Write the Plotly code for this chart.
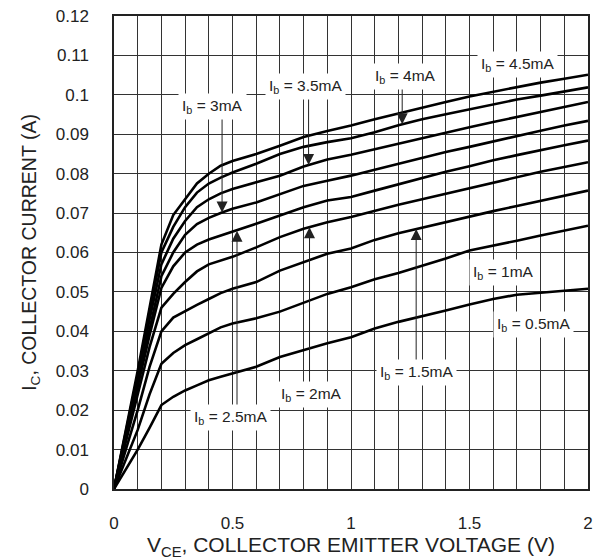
import numpy as np
import plotly.graph_objects as go

vce = [0, 0.05, 0.1, 0.15, 0.2, 0.25, 0.3, 0.35, 0.4, 0.45, 0.5, 0.6, 0.7, 0.8, 0.9,
       1.0, 1.1, 1.2, 1.3, 1.4, 1.5, 1.6, 1.7, 1.8, 1.9, 2.0]

ic_4_5mA = [0, 0.015, 0.030, 0.046, 0.062, 0.0695, 0.0735, 0.0775, 0.0800, 0.0820, 0.0832, 0.0850, 0.0871, 0.0893, 0.0908,
            0.0922, 0.0938, 0.0953, 0.0968, 0.0982, 0.0996, 0.1008, 0.1020, 0.1031, 0.1041, 0.1051]
ic_4mA = [0, 0.0145, 0.029, 0.045, 0.060, 0.0665, 0.0715, 0.0752, 0.0775, 0.0790, 0.0803, 0.0825, 0.0850, 0.0868, 0.0880,
          0.0890, 0.0905, 0.0923, 0.0938, 0.0951, 0.0963, 0.0975, 0.0988, 0.0998, 0.1008, 0.1019]
ic_3_5mA = [0, 0.014, 0.028, 0.043, 0.057, 0.0635, 0.0680, 0.0715, 0.0735, 0.0750, 0.0761, 0.0778, 0.0795, 0.0818, 0.0836,
            0.0848, 0.0862, 0.0877, 0.0891, 0.0905, 0.0918, 0.0931, 0.0944, 0.0957, 0.0970, 0.0982]
ic_3mA = [0, 0.0135, 0.027, 0.041, 0.054, 0.0600, 0.0645, 0.0672, 0.0688, 0.0700, 0.0711, 0.0727, 0.0749, 0.0769, 0.0782,
          0.0795, 0.0810, 0.0825, 0.0840, 0.0855, 0.0868, 0.0882, 0.0896, 0.0909, 0.0922, 0.0934]
ic_2_5mA = [0, 0.013, 0.026, 0.039, 0.051, 0.0565, 0.0600, 0.0620, 0.0633, 0.0643, 0.0651, 0.0673, 0.0694, 0.0715, 0.0732,
            0.0741, 0.0757, 0.0773, 0.0790, 0.0805, 0.0819, 0.0834, 0.0847, 0.0860, 0.0872, 0.0884]
ic_2mA = [0, 0.012, 0.024, 0.036, 0.046, 0.0495, 0.0525, 0.0552, 0.0570, 0.0580, 0.0589, 0.0613, 0.0639, 0.0660, 0.0677,
          0.0690, 0.0706, 0.0721, 0.0735, 0.0749, 0.0762, 0.0777, 0.0791, 0.0805, 0.0817, 0.0829]
ic_1_5mA = [0, 0.010, 0.020, 0.031, 0.040, 0.0435, 0.0452, 0.0467, 0.0482, 0.0497, 0.0508, 0.0525, 0.0554, 0.0575, 0.0597,
            0.0610, 0.0632, 0.0649, 0.0663, 0.0677, 0.0692, 0.0705, 0.0718, 0.0731, 0.0744, 0.0757]
ic_1mA = [0, 0.0075, 0.015, 0.024, 0.0318, 0.0345, 0.0365, 0.0380, 0.0396, 0.0410, 0.0420, 0.0433, 0.0450, 0.0472, 0.0495,
          0.0512, 0.0532, 0.0548, 0.0566, 0.0585, 0.0605, 0.0617, 0.0630, 0.0643, 0.0656, 0.0668]
ic_0_5mA = [0, 0.005, 0.010, 0.0155, 0.0213, 0.0234, 0.0250, 0.0263, 0.0276, 0.0285, 0.0294, 0.0310, 0.0335, 0.0352, 0.0370,
            0.0385, 0.0407, 0.0424, 0.0438, 0.0453, 0.0468, 0.0482, 0.0493, 0.0498, 0.0503, 0.0508]

series_names = ["4.5mA", "4mA", "3.5mA", "3mA", "2.5mA", "2mA", "1.5mA", "1mA", "0.5mA"]
series_values = [ic_4_5mA, ic_4mA, ic_3_5mA, ic_3mA, ic_2_5mA, ic_2mA, ic_1_5mA, ic_1mA, ic_0_5mA]

x_tickvals = [0, 0.5, 1, 1.5, 2]
x_ticktext = ["0", "0.5", "1", "1.5", "2"]
y_tickvals = [0, 0.01, 0.02, 0.03, 0.04, 0.05, 0.06, 0.07, 0.08, 0.09, 0.1, 0.11, 0.12]
y_ticktext = ["0", "0.01", "0.02", "0.03", "0.04", "0.05", "0.06", "0.07", "0.08", "0.09", "0.1", "0.11", "0.12"]

# label placement (data coords) and arrow V positions (None = no arrow)
label_pos = {
    "4.5mA": (1.701, 0.1078, None),
    "4mA": (1.229, 0.1046, 1.216),
    "3.5mA": (0.807, 0.1020, 0.821),
    "3mA": (0.415, 0.0970, 0.456),
    "2.5mA": (0.491, 0.0182, 0.519),
    "2mA": (0.832, 0.0241, 0.825),
    "1.5mA": (1.275, 0.0296, 1.275),
    "1mA": (1.642, 0.0549, None),
    "0.5mA": (1.772, 0.0418, None),
}

FONT = "Liberation Sans, Arial, sans-serif"
fig = go.Figure()
for name, vals in zip(series_names, series_values):
    fig.add_trace(go.Scatter(x=vce, y=vals, mode="lines", name="Ib = " + name,
                             line=dict(color="black", width=2.6), showlegend=False))

annotations = []
# arrows first
for name, vals in zip(series_names, series_values):
    lx, ly, av = label_pos[name]
    if av is None:
        continue
    tip = float(np.interp(av, vce, vals))
    annotations.append(dict(x=av, y=tip, xref="x", yref="y", ax=av, ay=ly, axref="x", ayref="y",
                            text="", showarrow=True, arrowhead=2, arrowsize=2.2, arrowwidth=1,
                            arrowcolor="#222"))
for name, vals in zip(series_names, series_values):
    lx, ly, av = label_pos[name]
    annotations.append(dict(x=lx, y=ly, xref="x", yref="y", text="I<sub>b</sub> = " + name,
                            showarrow=False, bgcolor="white", borderpad=3,
                            font=dict(family=FONT, size=15.5, color="#222")))

# the page body adds an 8px offset, so the figure is sized to fit the 606x560 window
fig.update_layout(
    width=598, height=552,
    margin=dict(l=106, r=18, t=8, b=71, autoexpand=False),
    paper_bgcolor="white", plot_bgcolor="white",
    annotations=annotations,
    font=dict(family=FONT, color="#222"),
    xaxis=dict(range=[0, 2], tickvals=x_tickvals, ticktext=x_ticktext,
               showgrid=True, gridcolor="#333", gridwidth=1.3,
               minor=dict(dtick=0.1, showgrid=True, gridcolor="#333", gridwidth=1.3),
               showline=True, linecolor="#222", linewidth=1.5, mirror=True,
               zeroline=False, ticks="", ticklabelstandoff=18, automargin=False,
               ticklabeloverflow="allow",
               tickfont=dict(family=FONT, size=17, color="#222"),
               title=dict(text="V<sub>CE</sub>, COLLECTOR EMITTER VOLTAGE (V)", standoff=0,
                          font=dict(family=FONT, size=21, color="#222"))),
    yaxis=dict(range=[0, 0.12], tickvals=y_tickvals, ticktext=y_ticktext,
               showgrid=True, gridcolor="#333", gridwidth=1.3,
               showline=True, linecolor="#222", linewidth=1.5, mirror=True,
               zeroline=False, ticks="", ticklabelstandoff=20, automargin=False,
               ticklabeloverflow="allow",
               tickfont=dict(family=FONT, size=17, color="#222"),
               title=dict(text="I<sub>C</sub>, COLLECTOR CURRENT (A)", standoff=14,
                          font=dict(family=FONT, size=19.5, color="#222"))),
)

fig.write_html("out.html")
